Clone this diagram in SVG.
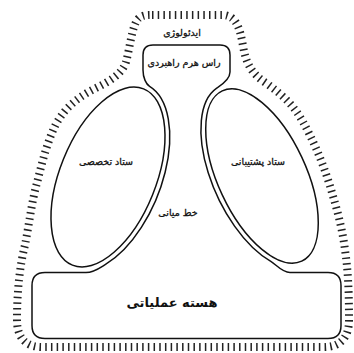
<svg xmlns="http://www.w3.org/2000/svg" width="354" height="353" viewBox="0 0 354 353">
<style>
.line{fill:none;stroke:#111;stroke-width:1.5}
.hatch{fill:none;stroke:#222;stroke-width:8;stroke-dasharray:1.5 4.2}
.lbl{font-family:"DejaVu Sans",sans-serif;font-size:9.5px;fill:#111;stroke:#111;stroke-width:0.3;text-anchor:middle}
.big{font-size:13px;font-weight:bold;stroke-width:0}
</style>
<rect width="354" height="353" fill="#fff"/>
<g id="ideology">
<path class="hatch" d="M152 15 L222 15 C236 15 240 28 243 46 C246 64 252 74 266 83 C284 96 294 106 303 122 C312 138 322 160 330 186 C336 206 342 226 345 250 C348 270 349 290 349 320 C349 338 340 347 324 347 L42 347 C26 347 17 338 17 320 C17 290 20 265 25 245 C29 225 32 200 37 183 C42 163 47 142 56 124 C66 106 80 96 96 88 C110 81 122 74 126 62 C130 48 132 24 139 18 C143 15 147 15 152 15 Z"/>
<text class="lbl" x="182" y="36">ایدئولوژی</text>
</g>
<g id="connectors">
<path id="structure-outline" class="line" d="M153 45 L220 45 Q230 45 230 55 L230 72 C230 80 220 86 216.4 88.4 A49 99 -25 0 0 270.8 261.4 C276 264.4 282 272.5 290 272.5 L328 272.5 Q341 272.5 341 285.5 L341 325.5 Q341 338.5 328 338.5 L45 338.5 Q32 338.5 32 325.5 L32 285.5 Q32 272.5 45 272.5 L86 272.5 C94 272.5 100.4 267.4 105.5 264.35 A53 100 22 0 0 149.6 86.4 C146.2 84.3 143 78 143 70 L143 55 Q143 45 153 45 Z"/>
</g>
<g id="strategic-apex">
<text class="lbl" x="184" y="66">راس هرم راهبردی</text>
</g>
<g id="technostructure">
<ellipse class="line" cx="108" cy="177" rx="48" ry="95" transform="rotate(22 108 177)"/>
<text class="lbl" x="106" y="165">ستاد تخصصی</text>
</g>
<g id="support-staff">
<ellipse class="line" cx="262" cy="176" rx="44" ry="94" transform="rotate(-25 262 176)"/>
<text class="lbl" x="258" y="165">ستاد پشتیبانی</text>
</g>
<g id="middle-line">
<text class="lbl" x="178" y="216">خط میانی</text>
</g>
<g id="operating-core">
<text class="lbl big" x="172" y="307">هسته عملیاتی</text>
</g>
</svg>
